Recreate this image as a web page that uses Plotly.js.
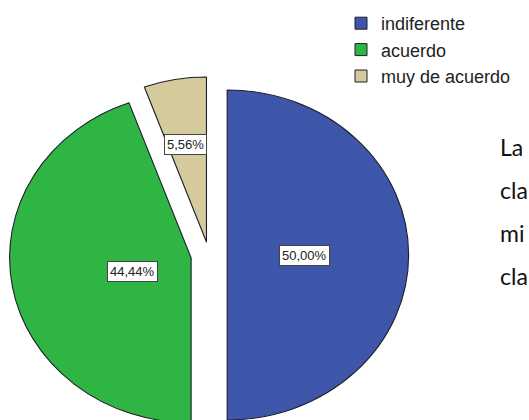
<!DOCTYPE html>
<html>
<head>
<meta charset="utf-8">
<script src="https://cdn.plot.ly/plotly-3.0.1.min.js"></script>
<style>
    html, body { margin: 0; padding: 0; background: white; overflow: hidden; }
    #chart { width: 529px; height: 510px; }
</style>
</head>
<body>
<div id="chart"></div>
<script>
// data
const categories = ['indiferente', 'acuerdo', 'muy de acuerdo']
const percents = [50.0, 44.44, 5.56]
const pulls = [0.1, 0.1, 0.08]
const sliceColors = ['#3d56a9', '#2fb544', '#d4ca9b']
const sideText = ['La', 'cla', 'mi', 'cla']

// page geometry (px): pie centre, radius, and the horizontal stretch of the pasted image
const W = 529
const H = 510
const CX = 209
const CY = 255
const R = 165
const SX = 1.1
const maxPull = Math.max(...pulls)
const half = R * (1 + maxPull)

const fmt = (v) => v.toFixed(2).replace('.', ',') + '%'

// box labels sit at each slice's centroid, like SPSS does
const total = percents.reduce((s, v) => s + v, 0)
const labelAnnots = []
let start = 0
percents.forEach((v, i) => {
    const span = (v / total) * 2 * Math.PI
    const mid = start + span / 2
    const a = span / 2
    const dist = (2 * R * Math.sin(a)) / (3 * a) + pulls[i] * R
    const px = CX + SX * dist * Math.sin(mid)
    const py = CY - dist * Math.cos(mid)
    labelAnnots.push({
        x: px / W,
        y: 1 - py / H,
        xref: 'paper',
        yref: 'paper',
        text: fmt(v),
        showarrow: false,
        bgcolor: 'white',
        bordercolor: '#444',
        borderwidth: 1,
        borderpad: 2,
        font: { family: 'Liberation Sans, Arial, sans-serif', size: 13, color: '#222' },
    })
    start += span
})

const sideAnnots = sideText.map((t, i) => ({
    x: 498 / W,
    y: 1 - (147 + i * 43) / H,
    xref: 'paper',
    yref: 'paper',
    xanchor: 'left',
    yanchor: 'middle',
    text: t,
    showarrow: false,
    font: { family: 'Lato, Open Sans, sans-serif', size: 23, color: '#111' },
}))

const trace = {
    type: 'pie',
    labels: categories,
    values: percents,
    sort: false,
    direction: 'clockwise',
    rotation: 0,
    pull: pulls,
    textinfo: 'none',
    hoverinfo: 'label+percent',
    marker: { colors: sliceColors, line: { color: '#1e1e2a', width: 1 } },
    domain: { x: [(CX - half) / W, (CX + half) / W], y: [0, 1] },
}

const layout = {
    width: W,
    height: H,
    margin: { l: 0, r: 0, t: 0, b: 0 },
    paper_bgcolor: 'white',
    showlegend: true,
    legend: {
        x: 341 / W,
        y: 1 - 5 / H,
        xanchor: 'left',
        yanchor: 'top',
        font: { family: 'Liberation Sans, Arial, sans-serif', size: 18, color: '#222' },
        tracegroupgap: 0,
        bgcolor: 'rgba(0,0,0,0)',
    },
    annotations: labelAnnots.concat(sideAnnots),
}

Plotly.newPlot('chart', [trace], layout, { displayModeBar: false, staticPlot: true }).then(() => {
    // the reference picture is stretched sideways; stretch the pie layer the same way
    const pie = document.querySelector('.pielayer')
    if (pie) {
        pie.setAttribute('transform', `translate(${CX},0) scale(${SX},1) translate(${-CX},0)`)
    }
})
</script>
</body>
</html>
